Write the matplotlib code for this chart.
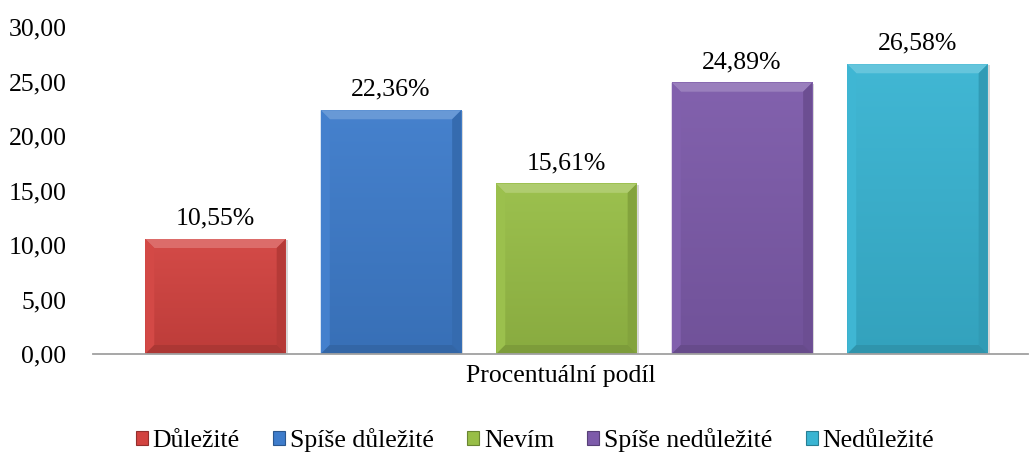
import numpy as np
import matplotlib.pyplot as plt
from matplotlib.patches import Polygon, Patch
from matplotlib.colors import to_rgb

# data
categories = ['Důležité', 'Spíše důležité', 'Nevím', 'Spíše nedůležité', 'Nedůležité']
values = [10.55, 22.36, 15.61, 24.89, 26.58]
colors = ['#D24340', '#3E7CCB', '#98BE47', '#7D5BAA', '#39B4D2']
xlabel = 'Procentuální podíl'

SERIF = ['Liberation Serif', 'DejaVu Serif']
plt.rcParams['font.family'] = SERIF
FS = 18.5

fig = plt.figure(figsize=(10.29, 4.53), dpi=100)
ax = fig.add_axes([93 / 1029, 1 - 354 / 453, (1028 - 93) / 1029, (354 - 27) / 453])

x = np.arange(len(values))
width = 0.80
ax.set_xlim(-0.698, 4.630)
ax.set_ylim(0, 30)


def shade(c, f):
    r = np.array(to_rgb(c))
    if f > 0:
        return tuple(r + (1 - r) * f)
    return tuple(r * (1 + f))


# velikost zkoseni hran v pixelech -> jednotky dat
bx = 9 / 175.5
by = 9 / (327 / 30)

for xi, v, c in zip(x, values, colors):
    x0, x1 = xi - width / 2, xi + width / 2
    # stin
    ax.bar(xi + 0.012, v, width, bottom=-0.08, color='#b0b0b0', alpha=0.5, zorder=1)
    # hlavni plocha s gradientem
    grad = np.linspace(0, 1, 100).reshape(-1, 1)
    top_c = np.array(shade(c, 0.04))
    bot_c = np.array(shade(c, -0.10))
    img = top_c * (1 - grad[..., None]) + bot_c * grad[..., None]
    img = np.repeat(img, 2, axis=1)
    ax.imshow(img, extent=(x0, x1, 0, v), aspect='auto', zorder=2, origin='upper')
    # zkosene hrany
    ax.add_patch(Polygon([(x0, v), (x1, v), (x1 - bx, v - by), (x0 + bx, v - by)],
                         closed=True, color=shade(c, 0.22), lw=0, zorder=3))
    ax.add_patch(Polygon([(x0, 0), (x0, v), (x0 + bx, v - by), (x0 + bx, by)],
                         closed=True, color=shade(c, 0.03), lw=0, zorder=3))
    ax.add_patch(Polygon([(x1, 0), (x1, v), (x1 - bx, v - by), (x1 - bx, by)],
                         closed=True, color=shade(c, -0.14), lw=0, zorder=3))
    ax.add_patch(Polygon([(x0, 0), (x1, 0), (x1 - bx, by), (x0 + bx, by)],
                         closed=True, color=shade(c, -0.18), lw=0, zorder=3))
    ax.annotate(f'{v:.2f}'.replace('.', ',') + '%', (xi, v), xytext=(0, 7),
                textcoords='offset points', ha='center', va='bottom',
                fontsize=FS, family=SERIF)

ax.set_yticks(np.arange(0, 31, 5))
ax.set_yticklabels([f'{t:.2f}'.replace('.', ',') for t in np.arange(0, 31, 5)],
                   fontsize=FS, family=SERIF)
ax.tick_params(axis='y', length=0, pad=19)
ax.set_xticks([])
for s in ['top', 'right', 'left']:
    ax.spines[s].set_visible(False)
ax.spines['bottom'].set_color('#a0a0a0')
ax.spines['bottom'].set_linewidth(1.3)
ax.spines['bottom'].set_zorder(5)
ax.set_xlabel(xlabel, fontsize=FS, labelpad=8, family=SERIF)

handles = [Patch(facecolor=c, edgecolor=shade(c, -0.3), lw=0.8) for c in colors]
fig.legend(handles, categories, loc='center', bbox_to_anchor=(535 / 1029, 1 - 440 / 453),
           ncol=5, frameon=False, prop={'family': SERIF, 'size': FS},
           handlelength=0.47, handleheight=0.47, handletextpad=0.18, columnspacing=1.3)

fig.savefig('out.png', dpi=100)
